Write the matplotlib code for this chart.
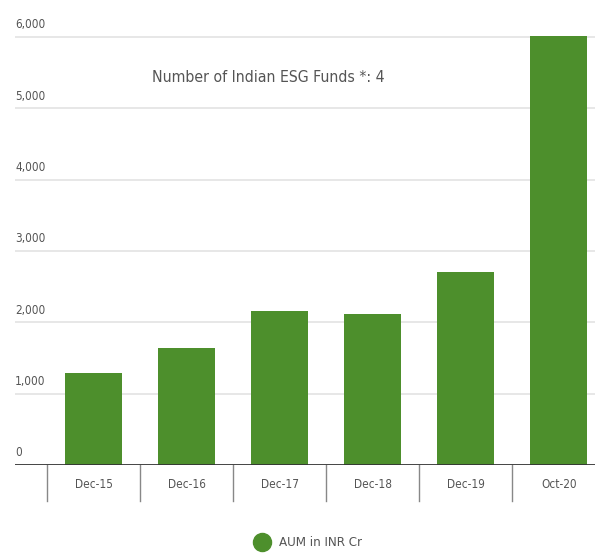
import matplotlib.pyplot as plt
from matplotlib.lines import Line2D

categories = ["Dec-15", "Dec-16", "Dec-17", "Dec-18", "Dec-19", "Oct-20"]
aum = [1290, 1640, 2160, 2120, 2710, 6010]
y_ticks = [0, 1000, 2000, 3000, 4000, 5000, 6000]

GREEN = "#4d8f2c"

plt.rcParams["font.family"] = ["DejaVu Sans"]
plt.rcParams["font.stretch"] = "condensed"

fig = plt.figure(figsize=(5.95, 5.56), dpi=100)
ax = fig.add_axes([15 / 595, 91 / 556, 580 / 595, 465 / 556])

x = list(range(len(categories)))
ax.bar(x, aum, width=0.61, color=GREEN, zorder=3)

ax.set_xlim(-0.844, 5.39)
ax.set_ylim(0, 6519)

for t in y_ticks[1:]:
    ax.axhline(t, color="#e3e3e3", lw=1.2, zorder=1)
ax.axhline(0, color="#333333", lw=2, zorder=4)

# y labels sit above their gridlines, left aligned
for t in y_ticks:
    ax.text(-0.844, t + 80, f"{t:,}", ha="left", va="bottom",
            fontsize=8.5, color="#555555")

ax.set_yticks([])
ax.set_xticks([])
for s in ax.spines.values():
    s.set_visible(False)

# category separators below the axis
trans = ax.get_xaxis_transform()
for b in [i - 0.5 for i in range(len(categories) + 1)]:
    ax.plot([b, b], [0, -0.077], color="#888888", lw=1, transform=trans,
            clip_on=False)
for i, c in enumerate(categories):
    ax.text(i, -0.043, c, ha="center", va="center", fontsize=8.5,
            color="#555555", transform=trans)

ax.text(1.88, 5430, "Number of Indian ESG Funds *: 4", ha="center",
        va="center", fontsize=11.3, color="#555555")

handle = Line2D([], [], marker="o", ls="none", color=GREEN, markersize=13)
fig.legend([handle], ["AUM in INR Cr"], loc="center", frameon=False,
           bbox_to_anchor=(308 / 595, 1 - 543 / 556), fontsize=9.5,
           handletextpad=0.7, handlelength=1.2, labelcolor="#555555")

fig.savefig("out.png", dpi=100)
